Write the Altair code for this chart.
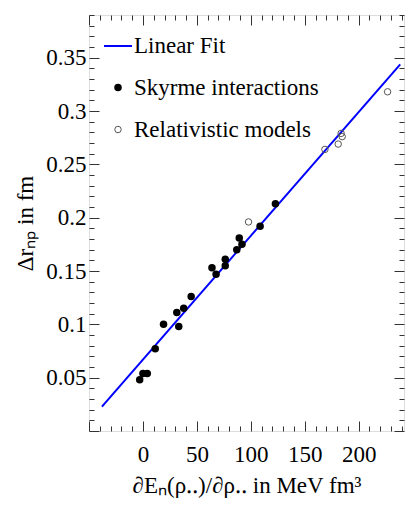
import altair as alt
import pandas as pd

# ---- data ----
sky_x = [-3, 0, 4, 11.4, 19.1, 31.4, 33.2, 37.8, 44.7, 64, 67.8, 76.3, 76.3, 87, 89.3, 91.8, 108.6, 122.8]
sky_y = [0.048, 0.054, 0.054, 0.077, 0.100, 0.111, 0.098, 0.115, 0.126, 0.153, 0.147, 0.161, 0.155,
         0.170, 0.181, 0.175, 0.192, 0.213]
rel_x = [97.9, 168.7, 181, 183.7, 184.7, 226.8]
rel_y = [0.196, 0.264, 0.269, 0.279, 0.276, 0.318]
fit_x = [-38, 238.5]
fit_y = [0.0228, 0.3437]

series = ["Linear Fit", "Skyrme interactions", "Relativistic models"]
x_major = [0, 50, 100, 150, 200]
x_minor = list(range(-50, 241, 10))
y_major = [0.05, 0.1, 0.15, 0.2, 0.25, 0.3, 0.35]
y_minor = [i / 100 for i in range(0, 40)]

pts = pd.DataFrame({
    "x": sky_x + rel_x,
    "y": sky_y + rel_y,
    "series": [series[1]] * len(sky_x) + [series[2]] * len(rel_x),
})
fit = pd.DataFrame({"x": fit_x, "y": fit_y})

F = "'Liberation Serif', 'Times New Roman', serif"
FS = 23
W, H = 315, 416
TICK = "#333333"

xs = alt.Scale(domain=[-50, 242], nice=False, zero=False)
ys = alt.Scale(domain=[0, 0.39], nice=False, zero=False)

x_tick_size = {"condition": {"test": "round(datum.value) % 50 === 0", "value": 10}, "value": 5}
y_tick_size = {"condition": {"test": "round(datum.value * 100) % 5 === 0", "value": 10}, "value": 5}

x_lab_axis = alt.Axis(orient="bottom", values=x_major, ticks=False, tickSize=0, domain=False, grid=False,
                      labelFont=F, labelFontSize=FS, labelColor="black", labelPadding=12, format="d",
                      labelOverlap=False,
                      titleFont=F, titleFontSize=FS, titleFontWeight="normal", titleColor="black",
                      titlePadding=8)
y_lab_axis = alt.Axis(orient="left", values=y_major, ticks=False, tickSize=0, domain=False, grid=False,
                      labelFont=F, labelFontSize=FS, labelColor="black", labelPadding=3, format="~g",
                      labelOverlap=False,
                      titleFont=F, titleFontSize=FS, titleFontWeight="normal", titleColor="black",
                      titlePadding=8)

def tick_axis(orient, values, size, offset):
    return alt.Axis(orient=orient, offset=offset, values=values, labels=False, domain=False, grid=False,
                    tickSize=size, tickColor=TICK, tickWidth=1)

leg = alt.Legend(orient="none", legendX=14, legendY=16, title=None, labelFont=F, labelFontSize=FS,
                 labelColor="black", rowPadding=18, labelOffset=1, padding=0, symbolOpacity=1,
                 labelLimit=400)

line_layer = alt.Chart(fit).mark_line(color="blue", strokeWidth=2).encode(
    x=alt.X("x:Q", scale=xs, axis=x_lab_axis, title="∂Eₙ(ρ‥)/∂ρ‥ in MeV fm³"),
    y=alt.Y("y:Q", scale=ys, axis=y_lab_axis, title="Δrₙₚ in fm"),
)

point_layer = alt.Chart(pts).mark_point(fillOpacity=1, strokeOpacity=1, opacity=1).encode(
    x=alt.X("x:Q", scale=xs, axis=tick_axis("top", x_minor, x_tick_size, -H), title=None),
    y=alt.Y("y:Q", scale=ys, axis=tick_axis("right", y_minor, y_tick_size, -W), title=None),
    shape=alt.Shape("series:N", scale=alt.Scale(domain=series, range=["stroke", "circle", "circle"]), legend=leg),
    fill=alt.Fill("series:N", scale=alt.Scale(domain=series, range=["blue", "black", "transparent"]), legend=leg),
    stroke=alt.Stroke("series:N", scale=alt.Scale(domain=series, range=["blue", "black", "#555555"]), legend=leg),
    size=alt.Size("series:N", scale=alt.Scale(type="ordinal", domain=series, range=[784, 56, 42]), legend=leg),
    strokeWidth=alt.StrokeWidth("series:N", scale=alt.Scale(type="ordinal", domain=series, range=[2, 0, 1]),
                                legend=leg),
)

frame_layer = alt.Chart(fit).mark_point(opacity=0).encode(
    x=alt.X("x:Q", scale=xs, axis=tick_axis("bottom", x_minor, x_tick_size, -H), title=None),
    y=alt.Y("y:Q", scale=ys, axis=tick_axis("left", y_minor, y_tick_size, -W), title=None),
)

chart = alt.layer(line_layer, point_layer, frame_layer).resolve_axis(
    x="independent", y="independent"
).properties(
    width=W, height=H,
    autosize=alt.AutoSizeParams(type="none"),
    padding={"left": 89, "top": 15, "right": 1, "bottom": 75},
).configure_view(stroke=TICK, strokeWidth=1).configure(background="white")

chart.save("out.html", embed_options={"renderer": "svg", "actions": False})
